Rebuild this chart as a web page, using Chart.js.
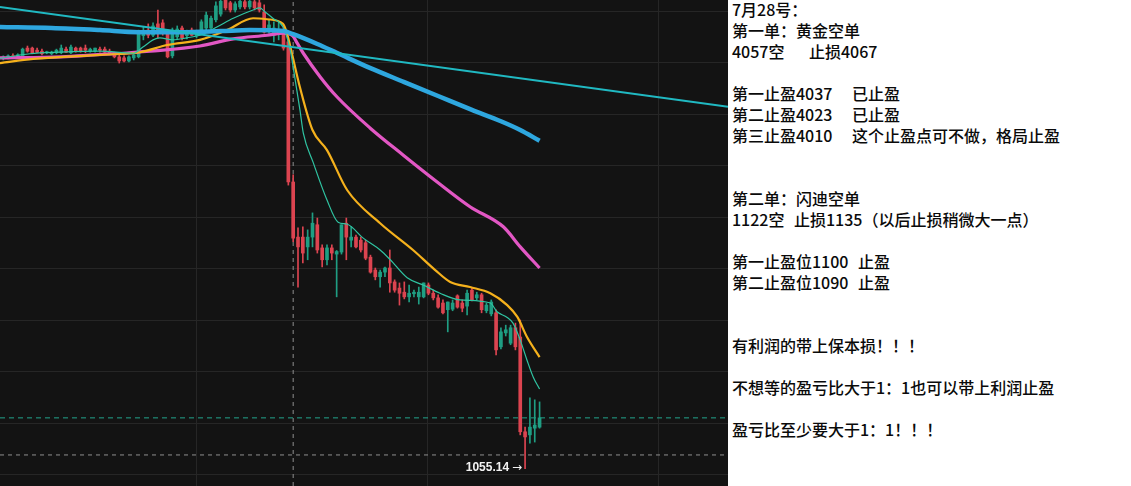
<!DOCTYPE html>
<html>
<head>
<meta charset="utf-8">
<script src="https://cdn.jsdelivr.net/npm/chart.js@4.4.1/dist/chart.umd.min.js"></script>
<style>
  html, body { margin: 0; padding: 0; background: #fff; }
  body { width: 1131px; height: 486px; position: relative; overflow: hidden; }
  #grafico { position: absolute; left: 0; top: 0; width: 728px; height: 486px; background: #131313; }
  #notas { position: absolute; left: 728px; top: -1px; width: 403px; height: 488px; background: #fff;
    padding-left: 4px; box-sizing: border-box; font-family: "Noto Sans CJK SC", sans-serif;
    font-size: 16px; font-weight: 500; color: #0a0a0a; }
  #notas div { position: relative; white-space: pre; height: 21.03px; line-height: 21.03px; }
  .c2 { position: absolute; top: 0; }
</style>
</head>
<body>
<canvas id="grafico" width="728" height="486"></canvas>
<div id="notas">
<div>7月28号：</div>
<div>第一单：黄金空单</div>
<div>4057空<span class="c2" style="left:77px">止损4067</span></div>
<div> </div>
<div>第一止盈4037<span class="c2" style="left:120px">已止盈</span></div>
<div>第二止盈4023<span class="c2" style="left:120px">已止盈</span></div>
<div>第三止盈4010<span class="c2" style="left:120px">这个止盈点可不做，格局止盈</span></div>
<div> </div>
<div> </div>
<div>第二单：闪迪空单</div>
<div>1122空<span class="c2" style="left:62px">止损1135（以后止损稍微大一点）</span></div>
<div> </div>
<div>第一止盈位1100<span class="c2" style="left:126px">止盈</span></div>
<div>第二止盈位1090<span class="c2" style="left:126px">止盈</span></div>
<div> </div>
<div> </div>
<div>有利润的带上保本损！！！</div>
<div> </div>
<div>不想等的盈亏比大于1：1也可以带上利润止盈</div>
<div> </div>
<div>盈亏比至少要大于1：1！！！</div>
</div>

<script>
// velas (OHLC), uma por índice
const opens = [
  1134.9, 1135.1, 1135.3, 1135.1, 1135.3, 1136.8, 1136.8, 1136.4, 1136.2, 1135.9,
  1135.7, 1135.9, 1135.9, 1136.6, 1135.9, 1136.8, 1136.8, 1136.8, 1136.2, 1136.2,
  1136.6, 1136.6, 1136.2, 1135.9, 1135.1, 1134.9, 1134.3, 1134.9, 1135.1, 1139.2,
  1140.3, 1139.3, 1141.5, 1141.7, 1139.7, 1135.3, 1139.0, 1140.7, 1139.2, 1140.3,
  1139.2, 1139.9, 1140.7, 1140.7, 1142.3, 1143.4, 1146.1, 1145.6, 1144.2, 1144.8,
  1145.8, 1144.8, 1145.8, 1145.6, 1143.8, 1140.3, 1139.3, 1139.5, 1140.3, 1138.0,
  1110.8, 1100.1, 1100.1, 1098.2, 1100.1, 1102.5, 1098.0, 1095.7, 1098.0, 1096.8,
  1097.2, 1102.8, 1099.5, 1100.1, 1099.5, 1099.0, 1096.2, 1093.7, 1092.4, 1093.3,
  1094.1, 1091.4, 1090.2, 1089.4, 1088.5, 1089.1, 1088.5, 1088.5, 1090.8, 1089.2,
  1088.3, 1087.3, 1086.0, 1086.1, 1088.7, 1087.3, 1086.7, 1089.8, 1088.3, 1088.9,
  1085.8, 1085.2, 1085.4, 1078.8, 1081.5, 1079.5, 1082.5, 1080.7, 1062.3, 1061.7, 1063.0, 1063.2
];
const highs = [
  1135.3, 1135.5, 1135.7, 1135.7, 1136.8, 1137.2, 1137.0, 1136.8, 1136.6, 1136.2,
  1136.2, 1136.6, 1137.4, 1137.0, 1137.4, 1137.0, 1137.0, 1137.4, 1136.8, 1136.8,
  1137.0, 1137.0, 1136.6, 1136.0, 1135.5, 1135.3, 1135.3, 1135.7, 1140.3, 1140.9,
  1141.5, 1141.7, 1144.2, 1142.3, 1140.1, 1140.7, 1141.1, 1141.1, 1140.3, 1140.7,
  1140.3, 1142.3, 1143.8, 1143.0, 1145.8, 1146.1, 1146.6, 1145.9, 1145.8, 1146.4,
  1146.3, 1146.5, 1146.4, 1146.2, 1145.2, 1142.3, 1141.9, 1141.9, 1141.3, 1138.8,
  1112.2, 1101.9, 1102.1, 1101.5, 1104.8, 1103.8, 1098.6, 1098.6, 1098.6, 1097.5,
  1102.5, 1103.8, 1102.1, 1100.5, 1100.1, 1099.5, 1096.6, 1094.1, 1093.7, 1094.3,
  1097.6, 1091.8, 1091.2, 1091.4, 1090.8, 1089.8, 1090.4, 1091.2, 1091.2, 1089.8,
  1088.9, 1087.9, 1087.5, 1087.9, 1088.9, 1087.9, 1089.8, 1090.2, 1089.4, 1089.2,
  1087.3, 1087.9, 1086.0, 1082.5, 1083.0, 1083.0, 1083.4, 1084.0, 1063.2, 1068.9, 1068.5, 1068.1
];
const lows = [
  1134.5, 1134.7, 1134.9, 1134.9, 1135.1, 1136.0, 1135.7, 1135.9, 1135.5, 1135.7,
  1135.5, 1135.7, 1135.7, 1135.9, 1135.7, 1136.0, 1136.0, 1135.9, 1136.0, 1136.0,
  1136.0, 1135.9, 1135.5, 1134.9, 1133.9, 1134.1, 1134.1, 1134.5, 1134.9, 1138.4,
  1138.8, 1139.0, 1138.8, 1139.3, 1134.9, 1134.9, 1138.6, 1138.4, 1138.6, 1139.2,
  1138.8, 1139.5, 1140.3, 1140.3, 1141.9, 1143.0, 1144.2, 1143.8, 1143.8, 1144.4,
  1144.4, 1144.4, 1144.2, 1143.8, 1139.7, 1139.7, 1138.0, 1138.4, 1136.4, 1110.2,
  1099.2, 1090.4, 1095.1, 1095.7, 1098.2, 1097.0, 1094.3, 1094.7, 1095.7, 1088.5,
  1096.8, 1095.7, 1098.2, 1098.0, 1097.2, 1095.7, 1093.1, 1091.8, 1090.4, 1092.4,
  1089.4, 1089.4, 1086.9, 1088.1, 1087.5, 1088.5, 1087.1, 1088.3, 1088.9, 1087.9,
  1086.3, 1085.2, 1081.7, 1085.8, 1086.3, 1085.6, 1085.0, 1087.7, 1087.9, 1085.4,
  1085.4, 1084.8, 1077.2, 1078.4, 1080.9, 1079.2, 1078.2, 1061.7, 1055.14, 1060.1, 1060.3, 1063.0
];
const closes = [
  1135.1, 1135.3, 1135.1, 1135.5, 1136.6, 1136.2, 1135.9, 1136.0, 1135.7, 1136.0,
  1136.0, 1136.4, 1136.8, 1136.0, 1137.0, 1136.2, 1136.2, 1136.4, 1136.6, 1136.8,
  1136.4, 1136.0, 1135.9, 1135.1, 1134.3, 1134.3, 1135.1, 1135.5, 1139.7, 1139.9,
  1139.3, 1141.1, 1139.9, 1139.7, 1135.1, 1140.3, 1140.5, 1138.8, 1139.9, 1139.3,
  1139.9, 1141.9, 1143.2, 1142.6, 1145.0, 1145.9, 1144.6, 1144.2, 1145.4, 1145.9,
  1144.8, 1145.9, 1144.6, 1144.2, 1139.9, 1141.3, 1140.7, 1140.3, 1136.8, 1110.8,
  1099.9, 1098.2, 1097.0, 1100.1, 1102.8, 1097.6, 1095.7, 1098.0, 1097.0, 1097.3,
  1102.5, 1100.1, 1100.1, 1098.2, 1097.6, 1096.0, 1093.3, 1092.4, 1093.3, 1094.1,
  1091.2, 1089.8, 1089.2, 1088.5, 1089.2, 1089.4, 1089.4, 1091.2, 1089.2, 1088.3,
  1086.5, 1085.4, 1087.5, 1087.3, 1086.5, 1086.3, 1089.2, 1087.9, 1088.9, 1086.0,
  1086.9, 1087.5, 1078.2, 1081.7, 1082.1, 1082.5, 1078.8, 1062.3, 1061.3, 1063.2, 1063.6, 1065.0
];

// médias móveis (índice da vela, preço)
const tealX = [-0.7, 5.5, 11.7, 20, 26.9, 28.9, 31, 32.4, 35.1, 38, 40.7, 44.2, 47.6, 51.7, 53.1, 54.2, 55.8, 57.9, 59.4, 60,
  61.4, 62.1, 64.1, 67, 69.3, 71.2, 74.5, 78, 80.1, 83.6, 86.9, 90.4, 94.5, 100.8, 102.2, 104.3, 105.5, 107, 108.4, 109.7, 111];
const tealY = [1134.8, 1135.7, 1136.0, 1136.2, 1135.8, 1137.0, 1138.4, 1138.8, 1138.4, 1138.8, 1139.3, 1140.9, 1142.6, 1144.2, 1144.6, 1143.8, 1142.6, 1140.9, 1136.4, 1133.1,
  1124.8, 1120.3, 1114.7, 1107.3, 1103.0, 1102.6, 1099.9, 1097.6, 1095.7, 1092.2, 1090.8, 1089.2, 1087.9, 1087.3, 1085.6, 1084.5, 1083.4, 1080.1, 1076.2, 1072.9, 1070.6];

const orangeX = [-0.7, 6.2, 20, 28.3, 33.9, 40.7, 46.3, 51.7, 54.6, 57.9, 58.7, 59.9, 61.4, 64, 67, 71.2, 78, 84.8, 89.4, 92.5, 96.6, 100.8, 104.3, 106.4, 108.4, 111];
const orangeY = [1133.9, 1134.7, 1135.5, 1136.0, 1137.4, 1138.4, 1140.3, 1142.6, 1142.4, 1141.5, 1139.7, 1135.1, 1129.2, 1120.9, 1117.0, 1109.2, 1102.8, 1097.6, 1093.7, 1091.4, 1090.4, 1089.2, 1086.9, 1084.6, 1080.7, 1076.8];

const pinkX = [-0.7, 12, 26, 30.4, 40.7, 47.6, 54.6, 58, 59.9, 60.8, 62.1, 65.6, 69.1, 75.9, 82.8, 89.8, 96.6, 103.5, 107, 111];
const pinkY = [1134.9, 1135.1, 1135.9, 1136.2, 1137.2, 1138.6, 1139.3, 1139.7, 1139.2, 1137.8, 1135.8, 1131.2, 1127.3, 1121.3, 1116.0, 1110.8, 1106.0, 1102.1, 1098.2, 1094.1];

const blueX = [-0.7, 10, 20, 28, 37, 45, 51, 58, 60, 65, 69, 76, 83, 90, 97, 103, 107, 111];
const blueY = [1140.9, 1140.7, 1140.3, 1139.9, 1139.9, 1140.1, 1140.3, 1140.1, 1139.5, 1137.6, 1135.9, 1132.9, 1130.2, 1127.5, 1124.8, 1122.6, 1120.9, 1118.8];

// linha de tendência
const trendX = [-0.7, 150];
const trendY = [1144.8, 1125.4];

// linhas de grade e marcadores
const xGrid = [16.1, 63.9, 111.7];
const yGrid = [1054, 1064, 1074, 1084, 1094, 1104, 1114, 1124, 1134, 1144];
const crossX = 60;
const crossY = 1057.8;
const X_MIN = -0.68, X_MAX = 150;
const Y_MIN = 1051.77, Y_MAX = 1146.14;

const UP = '#1f9e83';
const DOWN = '#dc4450';

const idx = opens.map((_, i) => i);
const candleColors = idx.map(i => closes[i] >= opens[i] ? UP : DOWN);
const lastClose = closes[closes.length - 1];
const lowIdx = lows.indexOf(Math.min(...lows));

function pontos(xs, ys) {
  return xs.map((x, i) => ({ x: x, y: ys[i] }));
}

function linha(label, xs, ys, color, width, order, extra) {
  return Object.assign({
    type: 'line', label: label, data: pontos(xs, ys),
    borderColor: color, borderWidth: width, pointRadius: 0,
    cubicInterpolationMode: 'monotone', fill: false, order: order
  }, extra || {});
}

// rótulo da mínima
const rotuloMinima = {
  id: 'rotuloMinima',
  afterDatasetsDraw(chart) {
    const { ctx, scales: { x, y } } = chart;
    const px = x.getPixelForValue(lowIdx);
    const py = y.getPixelForValue(lows[lowIdx]);
    ctx.save();
    ctx.fillStyle = '#f2f2f2';
    ctx.textAlign = 'right';
    ctx.textBaseline = 'middle';
    ctx.font = '12px "DejaVu Sans", sans-serif';
    ctx.fillText('→', px - 3, py - 1);
    ctx.font = 'bold 12px "Liberation Sans", Arial, sans-serif';
    ctx.fillText(lows[lowIdx].toFixed(2), px - 16, py - 1);
    ctx.restore();
  }
};

const ctx = document.getElementById('grafico').getContext('2d');
new Chart(ctx, {
  type: 'line',
  data: {
    datasets: [
      linha('trend', trendX, trendY, '#20b9c2', 2, 0, { cubicInterpolationMode: 'default', tension: 0 }),
      linha('MA blue', blueX, blueY, '#2ea7df', 4.5, 1),
      linha('MA teal', tealX, tealY, '#2fc4a2', 1.2, 2),
      linha('MA orange', orangeX, orangeY, '#f5b11c', 2.2, 3),
      linha('MA pink', pinkX, pinkY, '#e257c4', 3.2, 4),
      {
        type: 'bar', label: 'body',
        data: idx.map(i => ({ x: i, y: [opens[i], closes[i]] })),
        backgroundColor: candleColors, barThickness: 3, minBarLength: 1,
        grouped: false, borderWidth: 0, order: 5
      },
      {
        type: 'bar', label: 'wick',
        data: idx.map(i => ({ x: i, y: [lows[i], highs[i]] })),
        backgroundColor: candleColors, barThickness: 1,
        grouped: false, borderWidth: 0, order: 6
      },
      linha('price', [X_MIN, X_MAX], [lastClose, lastClose], '#22a38c', 1, 7, { borderDash: [5, 4], cubicInterpolationMode: 'default' }),
      linha('crossY', [X_MIN, X_MAX], [crossY, crossY], '#8e8e8e', 1, 8, { borderDash: [4, 4], cubicInterpolationMode: 'default' }),
      linha('crossX', [crossX, crossX], [Y_MIN, Y_MAX], '#8e8e8e', 1, 9, { borderDash: [4, 4], cubicInterpolationMode: 'default' })
    ]
  },
  options: {
    responsive: false,
    animation: false,
    events: [],
    layout: { padding: 0 },
    plugins: { legend: { display: false }, tooltip: { enabled: false } },
    scales: {
      x: {
        type: 'linear', min: X_MIN, max: X_MAX, offset: false,
        ticks: { display: false }, border: { display: false },
        grid: { color: '#262626', drawTicks: false },
        afterBuildTicks: s => { s.ticks = xGrid.map(v => ({ value: v })); }
      },
      y: {
        type: 'linear', min: Y_MIN, max: Y_MAX,
        ticks: { display: false }, border: { display: false },
        grid: { color: '#262626', drawTicks: false },
        afterBuildTicks: s => { s.ticks = yGrid.map(v => ({ value: v })); }
      }
    }
  },
  plugins: [rotuloMinima]
});
</script>
</body>
</html>
